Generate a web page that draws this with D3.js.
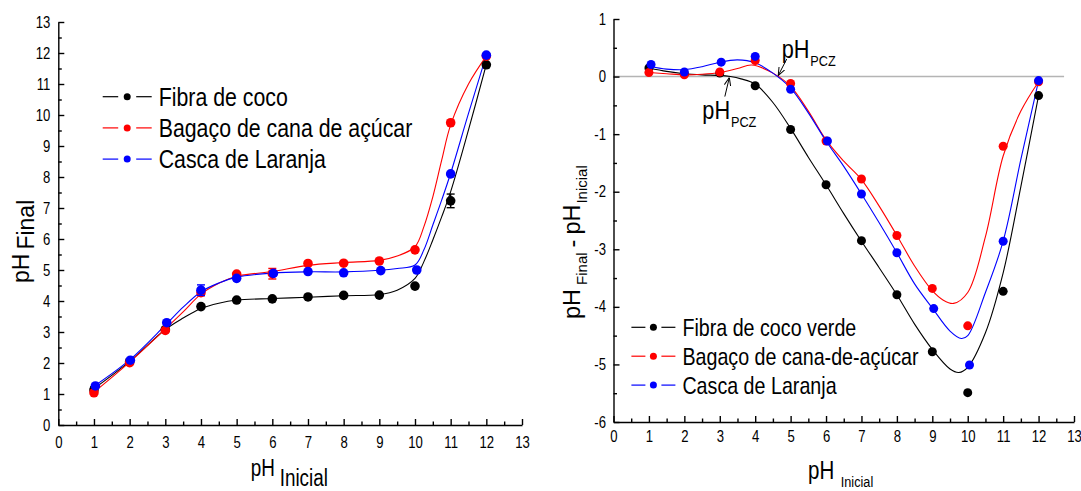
<!DOCTYPE html>
<html>
<head>
<meta charset="utf-8">
<script src="https://cdn.jsdelivr.net/npm/d3@7"></script>
<style>
body { margin: 0; background: #fff; }
svg text { font-family: "Liberation Sans", Arial, sans-serif; fill: #000; }
.axis path, .axis line { stroke: #000; stroke-width: 1.4px; }
.fit { fill: none; stroke-width: 1.1px; }
</style>
</head>
<body>
<div id="chart"></div>
<script>
// pH final vs pH inicial (left) and pH final - pH inicial (right)
// values

// x values (pH inicial)
var ph_inicial = [1, 2, 3, 4, 5, 6, 7, 8, 9, 10, 11, 12];
var ph_inicial_casca = [1.04, 2.02, 3.04, 4, 5, 6.03, 7, 8, 9.04, 10.05, 11, 12];

// left chart - pH final
var final_coco   = [1.13, 2.04, 3.08, 3.82, 4.03, 4.07, 4.13, 4.18, 4.19, 4.48, 7.23, 11.62];
var final_bagaco = [1.04, 2.01, 3.05, 4.27, 4.87, 4.88, 5.21, 5.22, 5.29, 5.65, 9.75, 11.9];
var final_casca  = [1.26, 2.09, 3.3, 4.35, 4.73, 4.89, 4.95, 4.91, 4.98, 5.0, 8.1, 11.93];
// error bars (pH units)
var err_coco   = [0.1, 0, 0, 0, 0, 0, 0, 0, 0, 0, 0.22, 0];
var err_bagaco = [0, 0, 0, 0.1, 0, 0.17, 0, 0, 0, 0, 0, 0];
var err_casca  = [0, 0, 0, 0.17, 0, 0, 0, 0, 0, 0, 0, 0];

// fitted curves of the left chart
var fit_final_x      = [1, 2, 3, 3.5, 4, 4.5, 5, 6, 7, 8, 9, 9.5, 10, 10.25, 10.5, 10.75, 11, 11.5, 12];
var fit_final_coco   = [1.17, 2.05, 3.08, 3.45, 3.76, 3.93, 4.03, 4.08, 4.12, 4.17, 4.21, 4.35, 4.73, 5.27, 5.97, 6.72, 7.53, 9.52, 11.63];
var fit_final_bagaco = [1.06, 2.03, 3.1, 3.65, 4.22, 4.57, 4.8, 4.95, 5.15, 5.24, 5.31, 5.45, 5.75, 6.4, 7.36, 8.55, 9.68, 11.0, 11.9];
var fit_final_casca  = [1.25, 2.1, 3.22, 3.8, 4.3, 4.58, 4.77, 4.9, 4.94, 4.94, 4.99, 5.05, 5.16, 5.65, 6.45, 7.26, 8.12, 10.05, 11.93];

// right chart - pH final - pH inicial
var delta_coco   = [0.15, 0.05, 0.06, -0.16, -0.92, -1.88, -2.85, -3.79, -4.78, -5.49, -3.73, -0.33];
var delta_bagaco = [0.07, 0.03, 0.08, 0.28, -0.12, -1.12, -1.78, -2.76, -3.68, -4.33, -1.21, -0.09];
var delta_casca  = [0.21, 0.08, 0.25, 0.35, -0.22, -1.12, -2.04, -3.06, -4.03, -5.01, -2.86, -0.07];
var ph_inicial_casca_delta = [1.06, 2, 3.04, 4, 5, 6.04, 7, 8, 9.04, 10.05, 11, 12];

// fitted curves of the right chart
var fit_delta_coco_x   = [1, 1.5, 2, 2.5, 3, 3.3, 3.6, 4, 4.5, 5, 5.5, 6, 6.5, 7, 7.5, 8, 8.5, 9, 9.5, 9.75, 10, 10.5, 11, 11.5, 12];
var fit_delta_coco     = [0.15, 0.09, 0.05, 0.03, 0.02, 0.0, -0.04, -0.13, -0.45, -0.9, -1.4, -1.88, -2.38, -2.86, -3.32, -3.79, -4.3, -4.74, -5.08, -5.14, -5.05, -4.45, -3.41, -1.91, -0.33];
var fit_delta_bagaco_x = [1, 1.5, 2, 2.5, 3, 3.5, 3.9, 4.5, 5, 5.5, 6, 6.5, 7, 7.5, 8, 8.5, 9, 9.3, 9.6, 10, 10.5, 11, 11.5, 12];
var fit_delta_bagaco   = [0.07, 0.05, 0.03, 0.04, 0.07, 0.14, 0.2, 0.06, -0.17, -0.6, -1.1, -1.47, -1.79, -2.25, -2.76, -3.29, -3.72, -3.88, -3.94, -3.75, -2.78, -1.38, -0.6, -0.09];
var fit_delta_casca_x  = [1, 1.5, 2, 2.5, 3, 3.5, 4, 4.5, 5, 5.5, 6, 6.5, 7, 7.5, 8, 8.5, 9, 9.5, 9.82, 10, 10.5, 11, 11.5, 12];
var fit_delta_casca    = [0.18, 0.13, 0.12, 0.17, 0.25, 0.29, 0.24, 0.06, -0.2, -0.63, -1.12, -1.56, -2.04, -2.54, -3.06, -3.6, -4.02, -4.42, -4.55, -4.5, -3.75, -2.86, -1.44, -0.07];

// pH of zero charge marked with arrows
var pcz_bagaco_casca = 4.65;
var pcz_coco = 3.27;

// labels
var names_left  = ["Fibra de coco", "Bagaço de cana de açúcar", "Casca de Laranja"];
var names_right = ["Fibra de coco verde", "Bagaço de cana-de-açúcar", "Casca de Laranja"];
var colors = ["#000000", "#ff0000", "#0000ff"];
var x_ticks = [0, 1, 2, 3, 4, 5, 6, 7, 8, 9, 10, 11, 12, 13];
var y_ticks_left = [0, 1, 2, 3, 4, 5, 6, 7, 8, 9, 10, 11, 12, 13];
var y_ticks_right = [-6, -5, -4, -3, -2, -1, 0, 1];

// horizontal text in the original is squeezed
var sx = 0.82;

var svg = d3.select("#chart")
	.append("svg")
		.attr("width", 1081)
		.attr("height", 491);

// scales
var x_left = d3.scaleLinear().domain([0, 13]).range([58.3, 522]);
var y_left = d3.scaleLinear().domain([0, 13]).range([425, 22]);
var x_right = d3.scaleLinear().domain([0, 13]).range([613.5, 1074]);
var y_right = d3.scaleLinear().domain([-6, 1]).range([422, 19]);

function zip(xs, ys) {
	return xs.map(function(d, i) { return [d, ys[i]]; });
}

function halves(ticks) {
	return ticks.slice(0, -1).map(function(d) { return d + 0.5; });
}

// axes with inward ticks, major + minor
function draw_axes(x, y, xticks, yticks, xpad, ypad) {
	var fmt = function(d) { return String(d); };
	var y0 = y.range()[0], x0 = x.range()[0];

	var gx = svg.append("g")
		.attr("class", "axis")
		.attr("transform", "translate(0," + y0 + ")")
		.call(d3.axisBottom(x).tickValues(xticks).tickSize(-6).tickSizeOuter(0).tickPadding(xpad).tickFormat(fmt));
	svg.append("g")
		.attr("class", "axis")
		.attr("transform", "translate(0," + y0 + ")")
		.call(d3.axisBottom(x).tickValues(halves(xticks)).tickSize(-3.5).tickFormat(""))
		.select(".domain").remove();

	var gy = svg.append("g")
		.attr("class", "axis")
		.attr("transform", "translate(" + x0 + ",0)")
		.call(d3.axisLeft(y).tickValues(yticks).tickSize(-6).tickSizeOuter(0).tickPadding(ypad).tickFormat(fmt));
	svg.append("g")
		.attr("class", "axis")
		.attr("transform", "translate(" + x0 + ",0)")
		.call(d3.axisLeft(y).tickValues(halves(yticks)).tickSize(-3.5).tickFormat(""))
		.select(".domain").remove();

	gx.selectAll(".tick text").attr("transform", "scale(" + sx + ",1)");
	gy.selectAll(".tick text").attr("transform", "scale(" + sx + ",1)").attr("x", -ypad / sx);
	gx.selectAll("text").attr("font-size", 16).attr("font-family", null);
	gy.selectAll("text").attr("font-size", 16).attr("font-family", null);
}

// fitted curve of one series
function draw_curve(x, y, fx, fy, color) {
	var line = d3.line()
		.x(function(d) { return x(d[0]); })
		.y(function(d) { return y(d[1]); })
		.curve(d3.curveCatmullRom.alpha(0.5));
	svg.append("path")
		.datum(zip(fx, fy))
		.attr("class", "fit")
		.attr("stroke", color)
		.attr("d", line);
}

// measured points + error bars
function draw_points(x, y, xs, ys, errs, color, r) {
	var pts = xs.map(function(d, i) { return {x: d, y: ys[i], e: errs ? errs[i] : 0}; });
	var eb = svg.append("g").attr("stroke", color).attr("stroke-width", 1.4);
	pts.filter(function(d) { return d.e > 0; }).forEach(function(d) {
		eb.append("line").attr("x1", x(d.x)).attr("x2", x(d.x)).attr("y1", y(d.y - d.e)).attr("y2", y(d.y + d.e));
		eb.append("line").attr("x1", x(d.x) - 4).attr("x2", x(d.x) + 4).attr("y1", y(d.y - d.e)).attr("y2", y(d.y - d.e));
		eb.append("line").attr("x1", x(d.x) - 4).attr("x2", x(d.x) + 4).attr("y1", y(d.y + d.e)).attr("y2", y(d.y + d.e));
	});
	svg.append("g").selectAll("circle")
		.data(pts)
	.enter().append("circle")
		.attr("cx", function(d) { return x(d.x); })
		.attr("cy", function(d) { return y(d.y); })
		.attr("r", r)
		.attr("fill", color);
}

// legend rows: -- o -- name
function draw_legend(lx, ly, dy, names, size, seg, gap) {
	names.forEach(function(name, i) {
		var cy = ly + i * dy;
		var g = svg.append("g");
		g.append("line").attr("x1", lx).attr("x2", lx + seg).attr("y1", cy).attr("y2", cy)
			.attr("stroke", colors[i]).attr("stroke-width", 1.2);
		g.append("line").attr("x1", lx + seg + 2 * gap).attr("x2", lx + 2 * seg + 2 * gap).attr("y1", cy).attr("y2", cy)
			.attr("stroke", colors[i]).attr("stroke-width", 1.2);
		g.append("circle").attr("cx", lx + seg + gap).attr("cy", cy).attr("r", 3.5).attr("fill", colors[i]);
		g.append("text")
			.attr("transform", "translate(" + (lx + 2 * seg + 2 * gap + 7) + "," + (cy + size * 0.358) + ") scale(" + sx + ",1)")
			.attr("font-size", size)
			.text(name);
	});
}

// text with subscripts; parts = [[text, size, dy, dx], ...]
function put_text(px, py, parts, rotated) {
	var t = svg.append("text")
		.attr("transform", "translate(" + px + "," + py + ")" + (rotated ? " rotate(-90)" : " scale(" + sx + ",1)"));
	parts.forEach(function(p) {
		t.append("tspan").attr("font-size", p[1]).attr("dy", p[2] || 0).attr("dx", p[3] || 0).text(p[0]);
	});
	return t;
}

// ---------- left chart ----------
draw_axes(x_left, y_left, x_ticks, y_ticks_left, 11.5, 8);
draw_curve(x_left, y_left, fit_final_x, fit_final_coco, colors[0]);
draw_curve(x_left, y_left, fit_final_x, fit_final_bagaco, colors[1]);
draw_curve(x_left, y_left, fit_final_x, fit_final_casca, colors[2]);
draw_points(x_left, y_left, ph_inicial, final_coco, err_coco, colors[0], 4.8);
draw_points(x_left, y_left, ph_inicial, final_bagaco, err_bagaco, colors[1], 4.8);
draw_points(x_left, y_left, ph_inicial_casca, final_casca, err_casca, colors[2], 4.8);
draw_legend(102.7, 96.7, 31.2, names_left, 26, 15.5, 9);

put_text(250.7, 475.5, [["pH", 23], ["Inicial", 23, 10, 6]], false);
put_text(29, 283, [["pH", 23], ["Final", 23, 5, 4]], true);

// ---------- right chart ----------
svg.append("line")
	.attr("x1", x_right(0)).attr("x2", x_right(12.72))
	.attr("y1", y_right(0)).attr("y2", y_right(0))
	.attr("stroke", "#b4b4b4").attr("stroke-width", 1.5);
draw_axes(x_right, y_right, x_ticks, y_ticks_right, 9, 7.5);
draw_curve(x_right, y_right, fit_delta_coco_x, fit_delta_coco, colors[0]);
draw_curve(x_right, y_right, fit_delta_bagaco_x, fit_delta_bagaco, colors[1]);
draw_curve(x_right, y_right, fit_delta_casca_x, fit_delta_casca, colors[2]);
draw_points(x_right, y_right, ph_inicial, delta_coco, null, colors[0], 4.5);
draw_points(x_right, y_right, ph_inicial, delta_bagaco, null, colors[1], 4.5);
draw_points(x_right, y_right, ph_inicial_casca_delta, delta_casca, null, colors[2], 4.5);
draw_legend(631.4, 327.3, 28.9, names_right, 24, 14, 8);

put_text(808, 479, [["pH", 25], ["Inicial", 15.5, 8, 8]], false);
put_text(580, 319, [["pH", 23.5], ["Final", 15, 7, 4]
	, ["-", 23.5, -7, 5], ["pH", 23.5, 0, 5], ["Inicial", 15, 7, 1]], true);

// pH PCZ arrows
var defs = svg.append("defs");
defs.append("marker")
	.attr("id", "head")
	.attr("viewBox", "0 -4 8 8")
	.attr("refX", 8).attr("refY", 0)
	.attr("markerWidth", 8).attr("markerHeight", 8)
	.attr("markerUnits", "userSpaceOnUse")
	.attr("orient", "auto")
	.append("path")
		.attr("d", "M0,-3.2L8,0L0,3.2")
		.attr("fill", "none").attr("stroke", "#000").attr("stroke-width", 1);

var ax1 = x_right(pcz_bagaco_casca), ay1 = y_right(0);
svg.append("line")
	.attr("x1", ax1 + 8.5).attr("y1", ay1 - 17.5).attr("x2", ax1).attr("y2", ay1 - 1)
	.attr("stroke", "#000").attr("stroke-width", 1).attr("marker-end", "url(#head)");
put_text(ax1 + 3.5, ay1 - 19, [["pH", 26.5], ["PCZ", 15.5, 8, 1]], false);

var ax2 = x_right(pcz_coco), ay2 = y_right(0);
svg.append("line")
	.attr("x1", ax2 - 4.5).attr("y1", ay2 + 20).attr("x2", ax2).attr("y2", ay2 + 1)
	.attr("stroke", "#000").attr("stroke-width", 1).attr("marker-end", "url(#head)");
put_text(ax2 - 27, ay2 + 42, [["pH", 26.5], ["PCZ", 15.5, 8, 1]], false);
</script>
</body>
</html>
